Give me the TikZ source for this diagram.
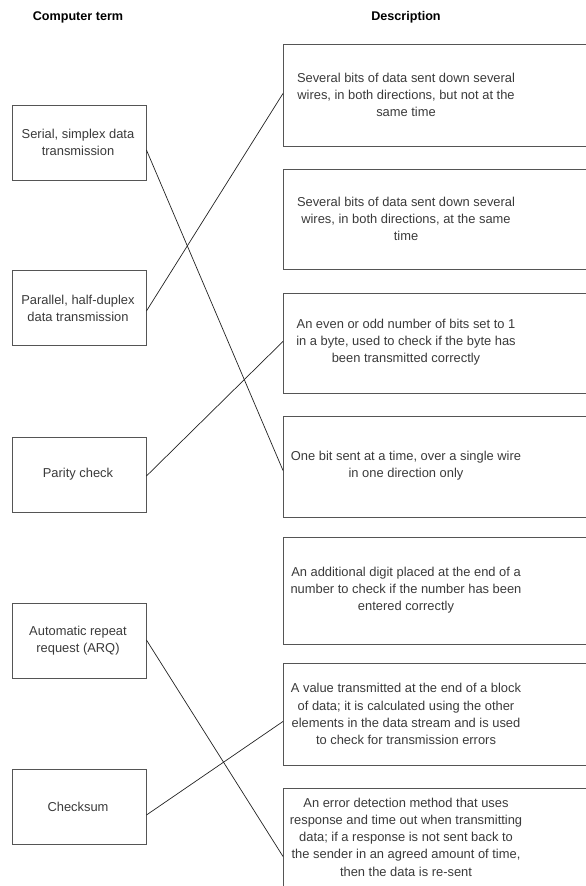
\documentclass[tikz,border=0pt]{standalone}
\usepackage{fontspec}
\setmainfont{Liberation Sans}
\definecolor{txt}{HTML}{3A3A3A}
\definecolor{brd}{HTML}{555555}
\definecolor{lnk}{HTML}{222222}
\begin{document}
\begin{tikzpicture}[x=1pt,y=-1pt,
  lbox/.style={draw=brd,line width=0.9pt,minimum width=134pt,minimum height=75pt,inner sep=0pt},
  rbox/.style={draw=brd,line width=0.9pt,minimum width=330pt,inner sep=0pt,anchor=north west},
  ltxt/.style={text=txt,font=\fontsize{12.9}{17}\selectfont,align=center},
  rtxt/.style={text=txt,font=\fontsize{12.9}{17.2}\selectfont,align=center},
  head/.style={text=black,font=\fontsize{12.6}{14}\selectfont\bfseries},
  link/.style={draw=lnk,line width=0.7pt}]
\useasboundingbox (0,0) rectangle (586,886);
% headers
\node[head] (h1) at (78,17) {Computer term};
\node[head] (h2) at (406,17) {Description};
% left boxes
\node[lbox] (l1) at (79,142.5) {};
\node[lbox] (l2) at (79,308) {};
\node[lbox] (l3) at (79,474.5) {};
\node[lbox] (l4) at (79,640.5) {};
\node[lbox] (l5) at (79,806.5) {};
\node[ltxt] (lt1) at (78,142.5) {Serial, simplex data\\transmission};
\node[ltxt] (lt2) at (78,308) {Parallel, half-duplex\\data transmission};
\node[ltxt] (lt3) at (78,474.5) {Parity check};
\node[ltxt] (lt4) at (78,640.5) {Automatic repeat\\request (ARQ)};
\node[ltxt] (lt5) at (78,806.5) {Checksum};
% right boxes
\node[rbox,minimum height=102pt] (r1) at (283,44) {};
\node[rbox,minimum height=100pt] (r2) at (283,169) {};
\node[rbox,minimum height=100pt] (r3) at (283,293) {};
\node[rbox,minimum height=101pt] (r4) at (283,416) {};
\node[rbox,minimum height=107pt] (r5) at (283,537) {};
\node[rbox,minimum height=102pt] (r6) at (283,663) {};
\node[rbox,minimum height=112pt] (r7) at (283,788) {};
\node[rtxt] (t1) at (406,95) {Several bits of data sent down several\\wires, in both directions, but not at the\\same time};
\node[rtxt] (t2) at (406,219) {Several bits of data sent down several\\wires, in both directions, at the same\\time};
\node[rtxt] (t3) at (406,342) {An even or odd number of bits set to 1\\in a byte, used to check if the byte has\\been transmitted correctly};
\node[rtxt] (t4) at (406,466) {One bit sent at a time, over a single wire\\in one direction only};
\node[rtxt] (t5) at (406,590) {An additional digit placed at the end of a\\number to check if the number has been\\entered correctly};
\node[rtxt] (t6) at (406,714) {A value transmitted at the end of a block\\of data; it is calculated using the other\\elements in the data stream and is used\\to check for transmission errors};
\node[rtxt] (t7) at (406,837) {An error detection method that uses\\response and time out when transmitting\\data; if a response is not sent back to\\the sender in an agreed amount of time,\\then the data is re-sent};
% links
\draw[link] ([yshift=-7.5pt]l1.east) -- ([yshift=-3.5pt]r4.west);
\draw[link] ([yshift=-3pt]l2.east) -- ([yshift=2pt]r1.west);
\draw[link] ([yshift=-1.5pt]l3.east) -- ([yshift=2pt]r3.west);
\draw[link] ([yshift=0.5pt]l4.east) -- ([yshift=-12pt]r7.west);
\draw[link] ([yshift=-8.5pt]l5.east) -- ([yshift=-7pt]r6.west);
\end{tikzpicture}
\end{document}
